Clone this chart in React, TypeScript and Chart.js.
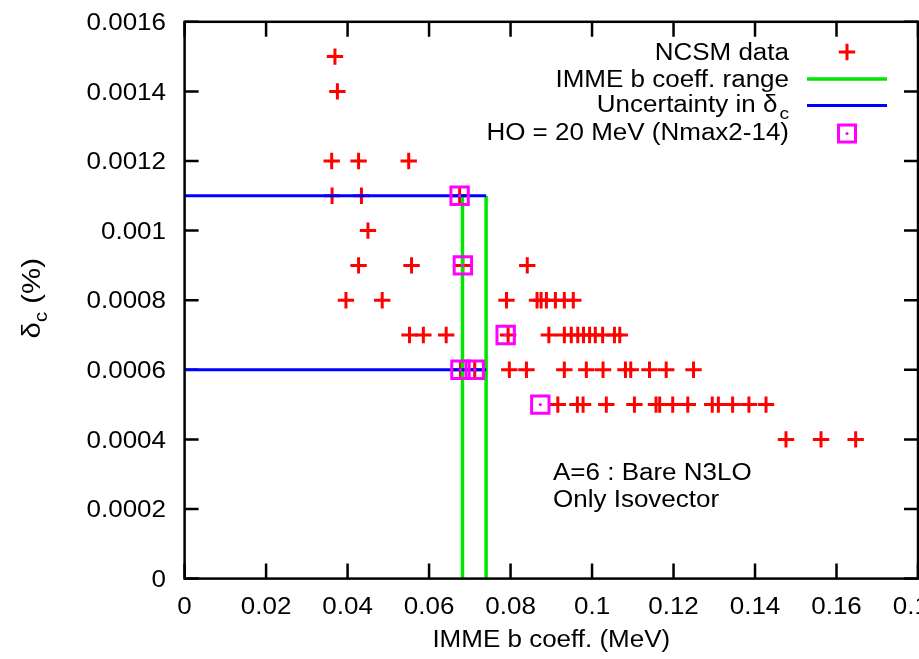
import { useEffect, useRef } from "react";
import { Chart, registerables } from "chart.js";

Chart.register(...registerables);

// NCSM results: IMME b coefficient (MeV) found at each δc level (%)
const bAt0015 = [0.0369];
const bAt0014 = [0.0375];
const bAt0012 = [0.0361, 0.0427, 0.055];
const bAt0011 = [0.0362, 0.0434, 0.0675];
const bAt0010 = [0.045];
const bAt0009 = [0.0427, 0.0557, 0.0683, 0.0841];
const bAt0008 = [0.0396, 0.0485, 0.079, 0.0865, 0.0875, 0.0888, 0.091, 0.0932, 0.0954];
const bAt0007 = [0.0552, 0.0586, 0.0642, 0.0794, 0.0894, 0.0932, 0.0949, 0.0965, 0.0979, 0.0994, 0.1008, 0.1026, 0.1055, 0.1068];
const bAt0006 = [0.0677, 0.0712, 0.0797, 0.0839, 0.0932, 0.0986, 0.1027, 0.1082, 0.1095, 0.1141, 0.1182, 0.1249];
const bAt0005 = [0.0916, 0.0964, 0.0978, 0.1035, 0.1104, 0.1157, 0.1166, 0.1198, 0.1235, 0.1295, 0.131, 0.1345, 0.1385, 0.1427];
const bAt0004 = [0.1476, 0.1562, 0.1647];

const deltaLevels = [0.0015, 0.0014, 0.0012, 0.0011, 0.001, 0.0009, 0.0008, 0.0007, 0.0006, 0.0005, 0.0004];
const bByLevel = [bAt0015, bAt0014, bAt0012, bAt0011, bAt0010, bAt0009, bAt0008, bAt0007, bAt0006, bAt0005, bAt0004];

// HO = 20 MeV runs (Nmax 2-14)
const hoB = [0.0675, 0.0683, 0.0788, 0.0677, 0.0712, 0.0873];
const hoDelta = [0.0011, 0.0009, 0.0007, 0.0006, 0.0006, 0.0005];

// IMME b coefficient range and the resulting δc band
const immeRange = [0.0682, 0.074];
const deltaBand = [0.0006, 0.0011];

const xTickLabels = ["0", "0.02", "0.04", "0.06", "0.08", "0.1", "0.12", "0.14", "0.16", "0.18"];
const yTickLabels = ["0", "0.0002", "0.0004", "0.0006", "0.0008", "0.001", "0.0012", "0.0014", "0.0016"];

const FONT = '"Liberation Sans", Arial, Helvetica, sans-serif';
const RED = "#ff0000";
const GREEN = "#00e600";
const BLUE = "#0000ff";
const MAGENTA = "#ff00ff";

type Align = "left" | "right" | "center";

function putText(
  ctx: CanvasRenderingContext2D,
  text: string,
  x: number,
  y: number,
  align: Align,
  size = 23,
  sx = 1.13
): number {
  ctx.save();
  ctx.font = `${size}px ${FONT}`;
  ctx.textBaseline = "alphabetic";
  ctx.textAlign = "left";
  ctx.fillStyle = "#000";
  const w = ctx.measureText(text).width * sx;
  const left = align === "left" ? x : align === "right" ? x - w : x - w / 2;
  ctx.translate(left, y);
  ctx.scale(sx, 1);
  ctx.fillText(text, 0, 0);
  ctx.restore();
  return w;
}

function textWidth(ctx: CanvasRenderingContext2D, text: string, size = 23, sx = 1.13) {
  ctx.save();
  ctx.font = `${size}px ${FONT}`;
  const w = ctx.measureText(text).width * sx;
  ctx.restore();
  return w;
}

const decorations = {
  id: "decorations",
  // inward tick marks sit underneath the data
  beforeDatasetsDraw(chart: any) {
    const ctx: CanvasRenderingContext2D = chart.ctx;
    const { left, right, top, bottom } = chart.chartArea;
    const xs = chart.scales.x;
    const ys = chart.scales.y;
    ctx.save();
    ctx.strokeStyle = "#000";
    ctx.lineWidth = 2.5;
    ctx.beginPath();
    xs.ticks.forEach((t: any) => {
      const px = xs.getPixelForValue(t.value);
      ctx.moveTo(px, bottom);
      ctx.lineTo(px, bottom - 15);
      ctx.moveTo(px, top);
      ctx.lineTo(px, top + 15);
    });
    ys.ticks.forEach((t: any) => {
      const py = ys.getPixelForValue(t.value);
      ctx.moveTo(left, py);
      ctx.lineTo(left + 14, py);
      ctx.moveTo(right, py);
      ctx.lineTo(right - 14, py);
    });
    ctx.stroke();
    ctx.restore();
  },
  afterDatasetsDraw(chart: any) {
    const ctx: CanvasRenderingContext2D = chart.ctx;
    const { left, right, top, bottom } = chart.chartArea;
    ctx.save();
    ctx.strokeStyle = "#000";
    ctx.lineWidth = 2.5;
    ctx.strokeRect(left, top, right - left, bottom - top);
    ctx.restore();
  },
  afterDraw(chart: any) {
    const ctx: CanvasRenderingContext2D = chart.ctx;
    const { left, right, top, bottom } = chart.chartArea;
    const xs = chart.scales.x;
    const ys = chart.scales.y;

    // tick labels
    xs.ticks.forEach((t: any, i: number) => {
      putText(ctx, xTickLabels[i] ?? "", xs.getPixelForValue(t.value), 613.5, "center");
    });
    ys.ticks.forEach((t: any, i: number) => {
      putText(ctx, yTickLabels[i] ?? "", 166, ys.getPixelForValue(t.value) + 8.2, "right");
    });

    // axis titles
    putText(ctx, "IMME b coeff. (MeV)", (left + right) / 2, 647, "center");
    const ts = 26;
    const wD = textWidth(ctx, "δ", ts);
    const wC = textWidth(ctx, "c", 18);
    const wP = textWidth(ctx, " (%)", ts);
    const total = wD + wC + wP;
    ctx.save();
    ctx.translate(40, (top + bottom) / 2 + total / 2 - 2);
    ctx.rotate(-Math.PI / 2);
    putText(ctx, "δ", 0, 0, "left", ts);
    putText(ctx, "c", wD, 7, "left", 18);
    putText(ctx, " (%)", wD + wC, 0, "left", ts);
    ctx.restore();

    // key
    const textRight = 789;
    const sx0 = 807;
    const sx1 = 887;
    const sMid = 847;
    const rows = [52, 78.5, 105, 131.5];
    putText(ctx, "NCSM data", textRight, rows[0] + 8, "right");
    putText(ctx, "IMME b coeff. range", textRight, rows[1] + 8, "right");
    const wSub = textWidth(ctx, "c", 17);
    putText(ctx, "Uncertainty in δ", textRight - wSub - 2, rows[2] + 7, "right");
    putText(ctx, "c", textRight - wSub, rows[2] + 14, "left", 17);
    putText(ctx, "HO = 20 MeV (Nmax2-14)", textRight, rows[3] + 8, "right");

    ctx.save();
    ctx.lineWidth = 3;
    ctx.strokeStyle = RED;
    ctx.beginPath();
    ctx.moveTo(sMid - 8.2, rows[0]);
    ctx.lineTo(sMid + 8.2, rows[0]);
    ctx.moveTo(sMid, rows[0] - 8.2);
    ctx.lineTo(sMid, rows[0] + 8.2);
    ctx.stroke();
    ctx.lineWidth = 3.5;
    ctx.strokeStyle = GREEN;
    ctx.beginPath();
    ctx.moveTo(sx0, rows[1] + 0.5);
    ctx.lineTo(sx1, rows[1] + 0.5);
    ctx.stroke();
    ctx.lineWidth = 3;
    ctx.strokeStyle = BLUE;
    ctx.beginPath();
    ctx.moveTo(sx0, rows[2] + 0.5);
    ctx.lineTo(sx1, rows[2] + 0.5);
    ctx.stroke();
    ctx.strokeStyle = MAGENTA;
    ctx.strokeRect(sMid - 8.5, rows[3] + 2 - 8.5, 17, 17);
    ctx.fillStyle = MAGENTA;
    ctx.beginPath();
    ctx.arc(sMid, rows[3] + 2, 1.6, 0, Math.PI * 2);
    ctx.fill();
    ctx.restore();

    // note
    putText(ctx, "A=6 : Bare N3LO", 553, 480, "left");
    putText(ctx, "Only Isovector", 553, 506.5, "left");
  },
};

export default function App() {
  const canvasRef = useRef<HTMLCanvasElement | null>(null);

  useEffect(() => {
    const canvas = canvasRef.current;
    if (!canvas) return;

    const ncsmPoints: { x: number; y: number }[] = [];
    bByLevel.forEach((bs, i) => bs.forEach((b) => ncsmPoints.push({ x: b, y: deltaLevels[i] })));
    const hoPoints = hoB.map((b, i) => ({ x: b, y: hoDelta[i] }));

    const segment = (color: string, width: number, pts: { x: number; y: number }[]) => ({
      type: "scatter" as const,
      data: pts,
      showLine: true,
      borderColor: color,
      borderWidth: width,
      pointRadius: 0,
      order: 2,
    });

    const chart = new Chart(canvas, {
      type: "scatter",
      data: {
        datasets: [
          {
            label: "HO = 20 MeV (Nmax2-14)",
            data: hoPoints,
            pointStyle: "rect",
            pointRadius: 12.3,
            pointBorderColor: MAGENTA,
            pointBackgroundColor: "rgba(0,0,0,0)",
            pointBorderWidth: 3,
            order: 0,
          },
          {
            label: "HO centre",
            data: hoPoints,
            pointStyle: "circle",
            pointRadius: 1.6,
            pointBorderWidth: 0,
            pointBackgroundColor: MAGENTA,
            order: 0,
          },
          segment(BLUE, 3, [
            { x: 0, y: deltaBand[1] },
            { x: immeRange[1], y: deltaBand[1] },
          ]),
          segment(BLUE, 3, [
            { x: 0, y: deltaBand[0] },
            { x: immeRange[1], y: deltaBand[0] },
          ]),
          segment(GREEN, 3.5, [
            { x: immeRange[0], y: 0 },
            { x: immeRange[0], y: deltaBand[1] },
          ]),
          segment(GREEN, 3.5, [
            { x: immeRange[1], y: 0 },
            { x: immeRange[1], y: deltaBand[1] },
          ]),
          {
            label: "NCSM data",
            data: ncsmPoints,
            pointStyle: "cross",
            pointRadius: 8.2,
            pointBorderColor: RED,
            pointBorderWidth: 3,
            order: 3,
          },
        ] as any,
      },
      options: {
        animation: false,
        responsive: false,
        devicePixelRatio: 1,
        events: [],
        layout: { autoPadding: false, padding: { top: 21.8, right: 1, left: 0, bottom: 0 } },
        plugins: { legend: { display: false }, tooltip: { enabled: false } },
        scales: {
          x: {
            type: "linear",
            min: 0,
            max: 0.18,
            ticks: { stepSize: 0.02, display: false },
            grid: { display: false, drawTicks: false },
            border: { display: false },
            afterFit: (s: any) => {
              s.height = 80.4;
              s.paddingLeft = 0;
              s.paddingRight = 0;
            },
          },
          y: {
            type: "linear",
            min: 0,
            max: 0.0016,
            ticks: { stepSize: 0.0002, display: false },
            grid: { display: false, drawTicks: false },
            border: { display: false },
            afterFit: (s: any) => {
              s.width = 184.6;
              s.paddingTop = 0;
              s.paddingBottom = 0;
            },
          },
        },
      },
      plugins: [decorations],
    });

    return () => chart.destroy();
  }, []);

  return (
    <div style={{ position: "fixed", left: 0, top: 0, width: 919, height: 659, background: "#fff" }}>
      <canvas ref={canvasRef} width={919} height={659} style={{ display: "block" }} />
    </div>
  );
}
